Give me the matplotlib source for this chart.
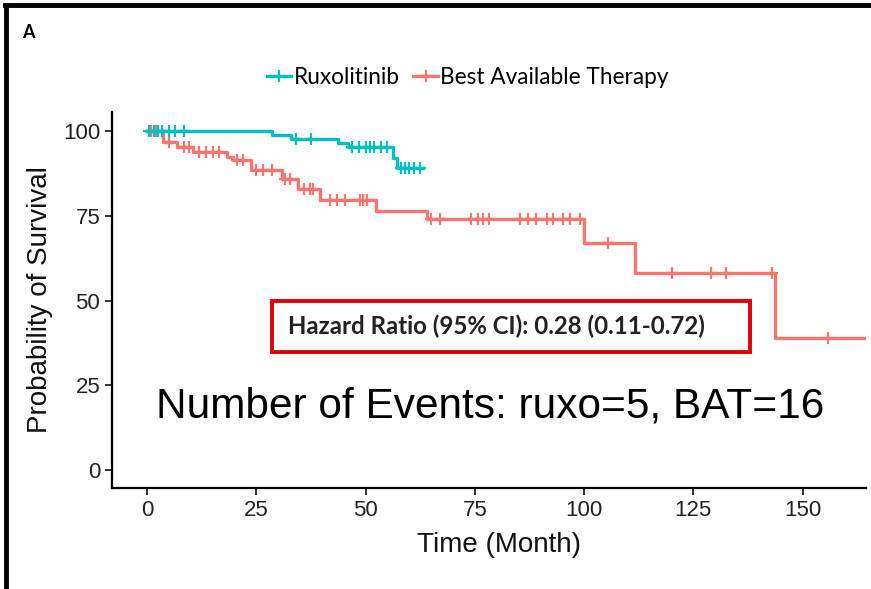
import numpy as np
import matplotlib.pyplot as plt
from matplotlib.lines import Line2D
from matplotlib.patches import Rectangle

plt.rcParams["font.family"] = ["Liberation Sans", "DejaVu Sans"]

# Kaplan-Meier step levels (time of drop, survival %)
rux_t = [0, 28.6, 33.0, 43.7, 46.0, 56.2, 57.2, 63.2]
rux_s = [100, 98.8, 97.6, 96.4, 95.2, 92.0, 89.0, 89.0]
rux_cens_t = [0.5, 1.5, 2.5, 3.5, 5.0, 6.5, 8.5, 34.2, 37.6,
              47.0, 48.5, 50.0, 51.0, 52.0, 53.5, 55.0,
              58.0, 59.0, 60.0, 61.0, 62.5]

bat_t = [0, 3.7, 6.8, 10.6, 18.2, 19.7, 23.9, 30.8, 34.6, 39.6,
         52.5, 64.0, 100.0, 111.6, 143.6, 164.5]
bat_s = [100, 96.8, 95.4, 93.9, 92.4, 91.4, 88.5, 86.0, 83.0, 79.6,
         76.6, 74.2, 66.9, 58.3, 39.1, 39.1]
bat_cens_t = [1.0, 2.0, 5.0, 8.5, 9.5, 12.0, 13.5, 15.0, 16.5, 20.5, 22.0,
              25.0, 26.5, 28.5, 31.5, 32.7, 36.0, 37.3, 38.0,
              41.8, 43.4, 45.3, 48.7, 49.4, 50.3, 65.0, 67.0,
              74.2, 75.8, 76.9, 78.3, 85.3, 87.2, 89.1, 91.4, 92.9, 95.1,
              96.7, 99.0, 105.4, 120.0, 129.0, 132.4, 143.0, 155.7]

x_ticks = [0, 25, 50, 75, 100, 125, 150]
y_ticks = [0, 25, 50, 75, 100]

teal = "#00BFC4"
salmon = "#F8766D"


def level_at(times, levels, t):
    idx = np.searchsorted(times, t, side="right") - 1
    return np.array(levels)[idx]


fig = plt.figure(figsize=(8.71, 5.89), dpi=100)
ax = fig.add_axes([0.1286, 0.1715, 0.8657, 0.6385])

for t, s, ct, col in [(bat_t, bat_s, bat_cens_t, salmon),
                      (rux_t, rux_s, rux_cens_t, teal)]:
    ax.step(t, s, where="post", color=col, lw=2.4)
    ax.plot(ct, level_at(t, s, ct), ls="none", marker="+", ms=9,
            mew=1.6, color=col)

ax.set_xlim(-8, 164.5)
ax.set_ylim(-5.3, 105.7)
ax.set_xticks(x_ticks)
ax.set_yticks(y_ticks)
for sp in ["top", "right"]:
    ax.spines[sp].set_visible(False)
for sp in ["left", "bottom"]:
    ax.spines[sp].set_linewidth(1.6)
ax.tick_params(length=5, width=1.3, labelsize=16, colors="#222222")
ax.set_xlabel("Time (Month)", fontsize=20, color="#111111")
ax.xaxis.set_label_coords(0.513, -0.118)
ax.set_ylabel("Probability of Survival", fontsize=20, color="#111111",
              labelpad=7)

# hazard ratio box
ax.add_patch(Rectangle((28.7, 34.9), 109.2, 15.0, fill=False, ec="#E00000",
                       lw=2.8, zorder=5))
ax.text(32.3, 42.4, "Hazard Ratio (95% CI): 0.28 (0.11-0.72)",
        family="Lato", weight="bold", fontsize=17.3, color="#222222",
        va="center", ha="left")
ax.text(78.4, 18.7, "Number of Events: ruxo=5, BAT=16", fontsize=30.5,
        color="black", ha="center", va="center")

handles = [Line2D([], [], color=teal, lw=2.4, marker="+", ms=9, mew=1.6),
           Line2D([], [], color=salmon, lw=2.4, marker="+", ms=9, mew=1.6)]
fig.legend(handles, ["Ruxolitinib", "Best Available Therapy"],
           loc="center", bbox_to_anchor=(0.537, 0.868), ncol=2, frameon=False,
           prop={"family": "Lato", "size": 16.3}, handlelength=1.1,
           handletextpad=0.1, columnspacing=0.6)

fig.text(0.025, 0.944, "A", fontsize=13, weight="bold", family="Lato",
         va="center")

# frame around the panel
fig.add_artist(Line2D([0.006, 1.0], [0.991, 0.991], color="black", lw=3.5))
fig.add_artist(Line2D([0.007, 0.007], [0.0, 0.991], color="black", lw=3.5))

fig.savefig("out.png", dpi=100)
